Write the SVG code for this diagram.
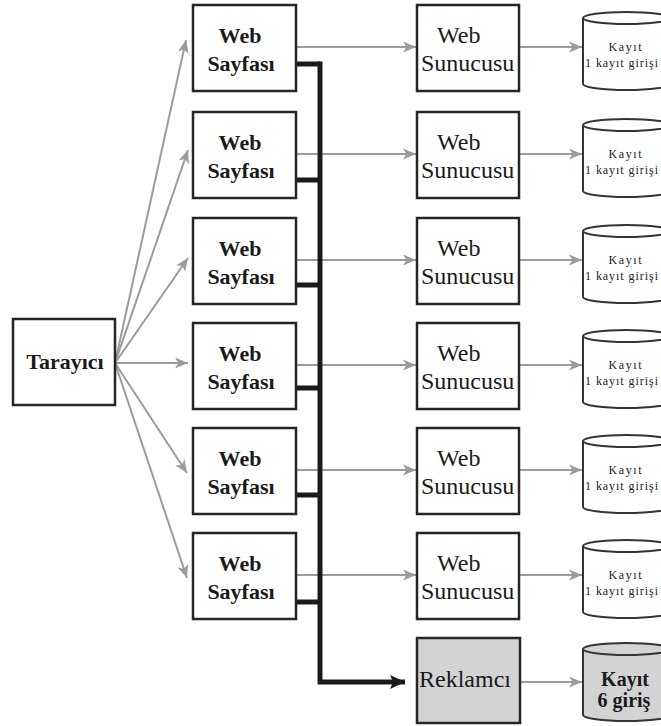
<svg xmlns="http://www.w3.org/2000/svg" width="661" height="726" viewBox="0 0 661 726">
  <style>
    .box { fill: #ffffff; stroke: #262626; stroke-width: 2.5; }
    .box.ad { fill: #d3d3d3; }
    .cyl { fill: #ffffff; stroke: #333333; stroke-width: 2; }
    .cyl.ad { fill: #d3d3d3; }
    .flow { fill: none; stroke: #9b9b9b; stroke-width: 2; }
    .track { fill: none; stroke: #1a1a1a; stroke-width: 5; stroke-linejoin: miter; }
    .bold { font-family: "Liberation Serif", "Times New Roman", serif; font-weight: bold; font-size: 22px; fill: #1a1a1a; }
    .reg { font-family: "Liberation Serif", "Times New Roman", serif; font-size: 24px; fill: #1a1a1a; }
    .small { font-family: "Liberation Serif", "Times New Roman", serif; font-size: 12px; fill: #222222; }
    .logb { font-family: "Liberation Serif", "Times New Roman", serif; font-weight: bold; font-size: 20px; fill: #1a1a1a; }
  </style>
  <defs>
    <marker id="ga" markerUnits="userSpaceOnUse" markerWidth="14" markerHeight="12" refX="13" refY="6" orient="auto">
      <path d="M0,0.5 L13,6 L0,11.5 L3.5,6 Z" fill="#9b9b9b"/>
    </marker>
    <marker id="ba" markerUnits="userSpaceOnUse" markerWidth="16" markerHeight="14" refX="15" refY="7" orient="auto">
      <path d="M0,0 L15,7 L0,14 L3,7 Z" fill="#1a1a1a"/>
    </marker>
    <!-- log cylinder: body with lower rim, plus the visible front edge of the top rim -->
    <symbol id="db" overflow="visible">
      <path d="M0,13 A43.5,6 0 0 1 87,13 L87,79 A43.5,6 0 0 1 0,79 Z"/>
      <path d="M0,13 A43.5,6 0 0 0 87,13" fill="none"/>
    </symbol>
  </defs>

  <!-- connectors -->
  <g id="connectors">
    <!-- browser to pages -->
    <path class="flow" marker-end="url(#ga)" d="M115,363 L186,40"/>
    <path class="flow" marker-end="url(#ga)" d="M115,363 L188,150"/>
    <path class="flow" marker-end="url(#ga)" d="M115,363 L188,258"/>
    <path class="flow" marker-end="url(#ga)" d="M115,363 L188,363"/>
    <path class="flow" marker-end="url(#ga)" d="M115,363 L187,473"/>
    <path class="flow" marker-end="url(#ga)" d="M115,363 L187,578"/>
    <!-- pages to servers -->
    <path class="flow" marker-end="url(#ga)" d="M296,47 L416,47"/>
    <path class="flow" marker-end="url(#ga)" d="M296,154 L416,154"/>
    <path class="flow" marker-end="url(#ga)" d="M296,260 L416,260"/>
    <path class="flow" marker-end="url(#ga)" d="M296,365 L416,365"/>
    <path class="flow" marker-end="url(#ga)" d="M296,470 L416,470"/>
    <path class="flow" marker-end="url(#ga)" d="M296,575 L416,575"/>
    <!-- servers to logs -->
    <path class="flow" marker-end="url(#ga)" d="M519,47 L582,47"/>
    <path class="flow" marker-end="url(#ga)" d="M519,154 L582,154"/>
    <path class="flow" marker-end="url(#ga)" d="M519,260 L582,260"/>
    <path class="flow" marker-end="url(#ga)" d="M519,365 L582,365"/>
    <path class="flow" marker-end="url(#ga)" d="M519,470 L582,470"/>
    <path class="flow" marker-end="url(#ga)" d="M519,575 L582,575"/>
    <path class="flow" marker-end="url(#ga)" d="M520,682 L582,682"/>
    <!-- tracking bus to advertiser -->
    <path class="track" d="M296,64 H320"/>
    <path class="track" d="M296,180 H320"/>
    <path class="track" d="M296,285 H320"/>
    <path class="track" d="M296,388 H320"/>
    <path class="track" d="M296,495 H320"/>
    <path class="track" d="M296,602 H320"/>
    <path class="track" marker-end="url(#ba)" d="M320,61.5 V682 H405"/>
  </g>

  <!-- browser -->
  <g id="browser">
    <rect class="box" x="13" y="319" width="102" height="86"/>
    <text class="bold" x="65" y="369" text-anchor="middle">Tarayıcı</text>
  </g>

  <!-- web pages -->
  <g id="page1">
    <rect class="box" x="193" y="5" width="103" height="86"/>
    <text class="bold" x="240" y="43" text-anchor="middle">Web</text>
    <text class="bold" x="241" y="71" text-anchor="middle">Sayfası</text>
  </g>
  <g id="page2">
    <rect class="box" x="193" y="112" width="103" height="86"/>
    <text class="bold" x="240" y="150" text-anchor="middle">Web</text>
    <text class="bold" x="241" y="178" text-anchor="middle">Sayfası</text>
  </g>
  <g id="page3">
    <rect class="box" x="193" y="218" width="103" height="86"/>
    <text class="bold" x="240" y="256" text-anchor="middle">Web</text>
    <text class="bold" x="241" y="284" text-anchor="middle">Sayfası</text>
  </g>
  <g id="page4">
    <rect class="box" x="193" y="323" width="103" height="86"/>
    <text class="bold" x="240" y="361" text-anchor="middle">Web</text>
    <text class="bold" x="241" y="389" text-anchor="middle">Sayfası</text>
  </g>
  <g id="page5">
    <rect class="box" x="193" y="428" width="103" height="86"/>
    <text class="bold" x="240" y="466" text-anchor="middle">Web</text>
    <text class="bold" x="241" y="494" text-anchor="middle">Sayfası</text>
  </g>
  <g id="page6">
    <rect class="box" x="193" y="533" width="103" height="86"/>
    <text class="bold" x="240" y="571" text-anchor="middle">Web</text>
    <text class="bold" x="241" y="599" text-anchor="middle">Sayfası</text>
  </g>

  <!-- web servers -->
  <g id="server1">
    <rect class="box" x="417" y="5" width="102" height="86"/>
    <text class="reg" x="437" y="43">Web</text>
    <text class="reg" x="421" y="71">Sunucusu</text>
  </g>
  <g id="server2">
    <rect class="box" x="417" y="112" width="102" height="86"/>
    <text class="reg" x="437" y="150">Web</text>
    <text class="reg" x="421" y="178">Sunucusu</text>
  </g>
  <g id="server3">
    <rect class="box" x="417" y="218" width="102" height="86"/>
    <text class="reg" x="437" y="256">Web</text>
    <text class="reg" x="421" y="284">Sunucusu</text>
  </g>
  <g id="server4">
    <rect class="box" x="417" y="323" width="102" height="86"/>
    <text class="reg" x="437" y="361">Web</text>
    <text class="reg" x="421" y="389">Sunucusu</text>
  </g>
  <g id="server5">
    <rect class="box" x="417" y="428" width="102" height="86"/>
    <text class="reg" x="437" y="466">Web</text>
    <text class="reg" x="421" y="494">Sunucusu</text>
  </g>
  <g id="server6">
    <rect class="box" x="417" y="533" width="102" height="86"/>
    <text class="reg" x="437" y="571">Web</text>
    <text class="reg" x="421" y="599">Sunucusu</text>
  </g>

  <!-- advertiser -->
  <g id="advertiser">
    <rect class="box ad" x="417" y="638" width="103" height="85"/>
    <text class="reg" x="419" y="687">Reklamcı</text>
  </g>

  <!-- server logs -->
  <g id="log1">
    <use href="#db" class="cyl" x="583" y="5"/>
    <text class="small" x="625" y="51" text-anchor="middle" textLength="33">Kayıt</text>
    <text class="small" x="585" y="67" textLength="73">1 kayıt girişi</text>
  </g>
  <g id="log2">
    <use href="#db" class="cyl" x="583" y="112"/>
    <text class="small" x="625" y="158" text-anchor="middle" textLength="33">Kayıt</text>
    <text class="small" x="585" y="174" textLength="73">1 kayıt girişi</text>
  </g>
  <g id="log3">
    <use href="#db" class="cyl" x="583" y="218"/>
    <text class="small" x="625" y="264" text-anchor="middle" textLength="33">Kayıt</text>
    <text class="small" x="585" y="280" textLength="73">1 kayıt girişi</text>
  </g>
  <g id="log4">
    <use href="#db" class="cyl" x="583" y="323"/>
    <text class="small" x="625" y="369" text-anchor="middle" textLength="33">Kayıt</text>
    <text class="small" x="585" y="385" textLength="73">1 kayıt girişi</text>
  </g>
  <g id="log5">
    <use href="#db" class="cyl" x="583" y="428"/>
    <text class="small" x="625" y="474" text-anchor="middle" textLength="33">Kayıt</text>
    <text class="small" x="585" y="490" textLength="73">1 kayıt girişi</text>
  </g>
  <g id="log6">
    <use href="#db" class="cyl" x="583" y="533"/>
    <text class="small" x="625" y="579" text-anchor="middle" textLength="33">Kayıt</text>
    <text class="small" x="585" y="595" textLength="73">1 kayıt girişi</text>
  </g>
  <g id="adlog">
    <use href="#db" class="cyl ad" x="583" y="636"/>
    <text class="logb" x="625" y="686" text-anchor="middle">Kayıt</text>
    <text class="logb" x="624" y="707" text-anchor="middle">6 giriş</text>
  </g>
</svg>
